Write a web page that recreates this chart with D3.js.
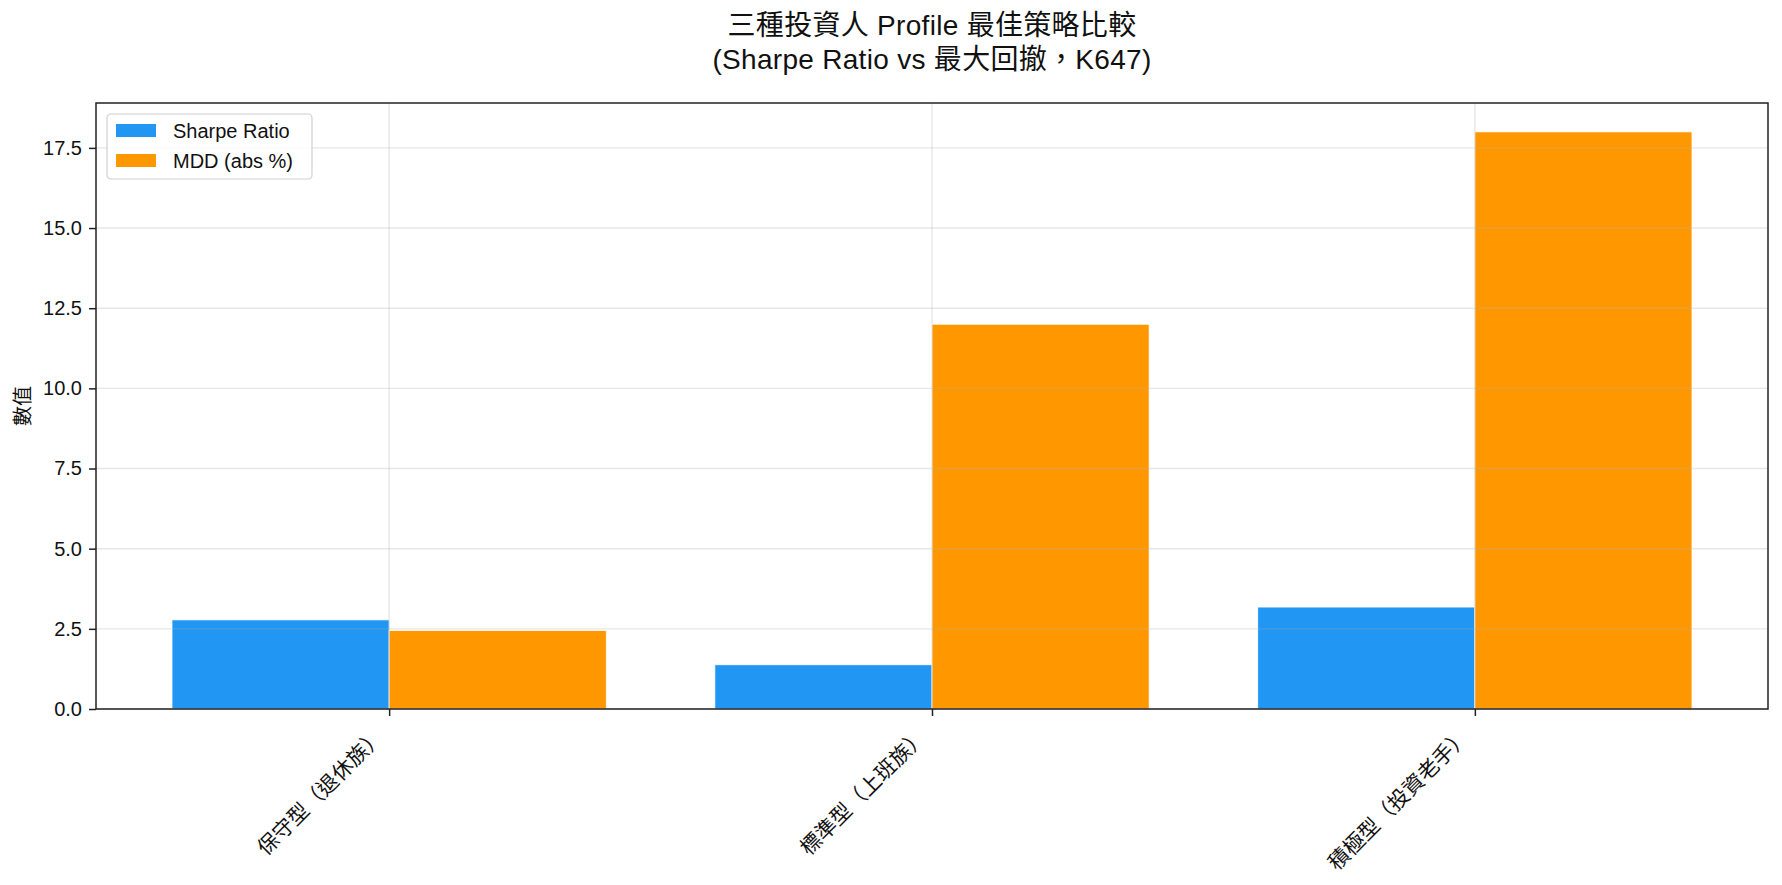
<!DOCTYPE html>
<html>
<head>
<meta charset="utf-8">
<script src="https://cdn.jsdelivr.net/npm/d3@7"></script>
<style>
  body { margin: 0; background: #fff; }
  svg text { font-family: "Liberation Sans", "Noto Sans CJK TC", sans-serif; fill: #111; }
</style>
</head>
<body>
<div id="chart"></div>
<script>
'use strict';

// chart data
var profiles = ["保守型（退休族）", "標準型（上班族）", "積極型（投資老手）"];
var sharpeValues = [2.78, 1.38, 3.18];
var mddValues = [2.45, 12.0, 18.0];
var seriesNames = ["Sharpe Ratio", "MDD (abs %)"];
var seriesColors = ["#2196F3", "#FF9800"];
var yTicks = [0, 2.5, 5, 7.5, 10, 12.5, 15, 17.5];
var titleLines = ["三種投資人 Profile 最佳策略比較", "(Sharpe Ratio vs 最大回撤，K647)"];
var yTitle = "數值";

var svgWidth = 1782, svgHeight = 885,
    margin = { top: 103, left: 96, right: 14, bottom: 176 };
var width = svgWidth - margin.left - margin.right;
var height = svgHeight - margin.top - margin.bottom;
var barWidth = 0.4;
var fs = 20; // tick / legend font size
var xfs = 21; // rotated category labels

var svg = d3.select("#chart").append("svg")
  .attr("width", svgWidth)
  .attr("height", svgHeight);

var main = svg.append("g")
  .attr("transform", "translate(" + margin.left + "," + margin.top + ")");

// scales: categories at 0,1,2 with 5% margins around the bars
var span = profiles.length - 1 + 2 * barWidth;
var x = d3.scaleLinear()
  .domain([-barWidth - 0.05 * span, profiles.length - 1 + barWidth + 0.05 * span])
  .range([0, width]);

var yMax = d3.max(mddValues.concat(sharpeValues)) * 1.05;
var y = d3.scaleLinear()
  .domain([0, yMax])
  .range([height, 0]);

// bars
var series = [sharpeValues, mddValues];
series.forEach(function(values, s) {
  main.append("g").selectAll("rect")
    .data(values)
    .enter().append("rect")
    .attr("x", function(d, i) { return x(i - barWidth + s * barWidth); })
    .attr("width", function() { return x(barWidth) - x(0); })
    .attr("y", function(d) { return y(d); })
    .attr("height", function(d) { return height - y(d); })
    .attr("fill", seriesColors[s])
    .attr("stroke", "#fff")
    .attr("stroke-width", 0.8);
});

// grid on top of bars
var grid = main.append("g").attr("class", "grid");
grid.selectAll("line.h")
  .data(yTicks)
  .enter().append("line")
  .attr("x1", 0).attr("x2", width)
  .attr("y1", function(d) { return y(d); })
  .attr("y2", function(d) { return y(d); })
  .attr("stroke", "#b0b0b0")
  .attr("stroke-opacity", 0.3)
  .attr("stroke-width", 1.4);
grid.selectAll("line.v")
  .data(profiles.map(function(d, i) { return i; }))
  .enter().append("line")
  .attr("y1", 0).attr("y2", height)
  .attr("x1", function(d) { return x(d); })
  .attr("x2", function(d) { return x(d); })
  .attr("stroke", "#b0b0b0")
  .attr("stroke-opacity", 0.3)
  .attr("stroke-width", 1.4);

// y axis
var yAxisG = main.append("g")
  .call(d3.axisLeft(y).tickValues(yTicks).tickFormat(d3.format(".1f")).tickSize(7).tickPadding(7));
yAxisG.select(".domain").remove();
yAxisG.selectAll(".tick line").attr("stroke", "#222").attr("stroke-width", 1.5);
yAxisG.selectAll(".tick text").style("font-size", fs + "px").attr("fill", "#111");

// x axis
var xAxisG = main.append("g")
  .attr("transform", "translate(0," + height + ")")
  .call(d3.axisBottom(x).tickValues([0, 1, 2]).tickFormat("").tickSize(7));
xAxisG.select(".domain").remove();
xAxisG.selectAll(".tick line").attr("stroke", "#222").attr("stroke-width", 1.5);

main.append("g").selectAll("text")
  .data(profiles)
  .enter().append("text")
  .attr("transform", function(d, i) {
    var tx = x(i) - 0.45 * xfs;
    var ty = height + 14 + 0.45 * xfs;
    return "translate(" + tx + "," + ty + ") rotate(-45)";
  })
  .attr("text-anchor", "end")
  .attr("dominant-baseline", "central")
  .style("font-size", xfs + "px")
  .text(function(d) { return d; });

// frame
main.append("rect")
  .attr("x", 0).attr("y", 0)
  .attr("width", width).attr("height", height)
  .attr("fill", "none")
  .attr("stroke", "#222")
  .attr("stroke-width", 1.5);

// title
svg.append("g").selectAll("text")
  .data(titleLines)
  .enter().append("text")
  .attr("x", margin.left + width / 2)
  .attr("y", function(d, i) { return 25 + i * 34; })
  .attr("text-anchor", "middle")
  .attr("dominant-baseline", "central")
  .style("font-size", "28px")
  .style("letter-spacing", "0.3px")
  .text(function(d) { return d; });

// y title
svg.append("text")
  .attr("transform", "translate(23," + (margin.top + height / 2) + ") rotate(-90)")
  .attr("text-anchor", "middle")
  .attr("dominant-baseline", "central")
  .style("font-size", fs + "px")
  .text(yTitle);

// legend
var legend = main.append("g").attr("transform", "translate(11,11)");
legend.append("rect")
  .attr("x", 0).attr("y", 0)
  .attr("width", 205).attr("height", 65)
  .attr("rx", 4)
  .attr("fill", "#fff")
  .attr("fill-opacity", 0.8)
  .attr("stroke", "#d0d0d0")
  .attr("stroke-width", 1.2);
seriesNames.forEach(function(name, i) {
  legend.append("rect")
    .attr("x", 9).attr("y", 10 + i * 30)
    .attr("width", 40).attr("height", 13)
    .attr("fill", seriesColors[i]);
  legend.append("text")
    .attr("x", 66).attr("y", 16.5 + i * 30)
    .attr("dominant-baseline", "central")
    .style("font-size", fs + "px")
    .text(name);
});
</script>
</body>
</html>
